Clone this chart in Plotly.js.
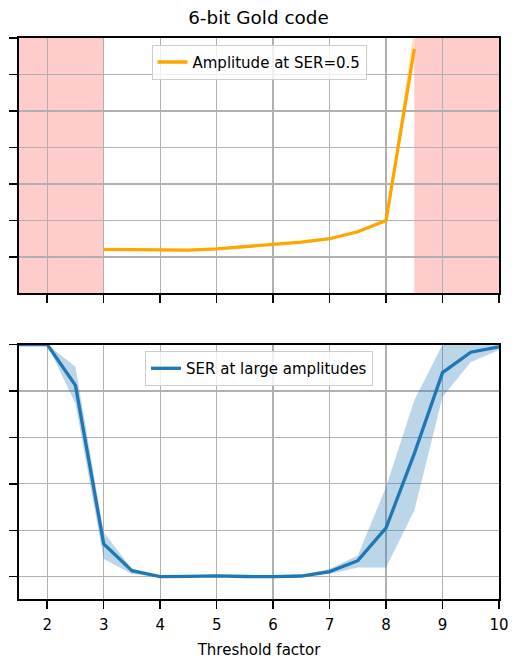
<!DOCTYPE html>
<html><head><meta charset="utf-8">
<script src="https://cdn.plot.ly/plotly-3.0.1.min.js"></script>
<style>body{margin:0;padding:0;}#chart{width:517px;height:662px;}</style>
</head><body><div id="chart"></div>
<script>
// Top panel: amplitude at SER=0.5 (arbitrary units, axis unlabeled)
const ampX = [3, 3.5, 4, 4.5, 5, 5.5, 6, 6.5, 7, 7.5, 8, 8.5];
const ampY = [1.21, 1.20, 1.20, 1.19, 1.22, 1.28, 1.34, 1.41, 1.50, 1.69, 2.00, 6.70];
const ampLo = [1.18, 1.17, 1.17, 1.16, 1.19, 1.25, 1.31, 1.38, 1.47, 1.65, 1.96, 6.55];
const ampHi = [1.24, 1.23, 1.23, 1.22, 1.25, 1.31, 1.37, 1.44, 1.53, 1.73, 2.04, 7.30];
// Invalid regions (red spans)
const spans = [[1.5, 3], [8.5, 10]];

// Bottom panel: SER at large amplitudes
const serX = [1.5, 2, 2.5, 3, 3.5, 4, 4.5, 5, 5.5, 6, 6.5, 7, 7.5, 8, 8.5, 9, 9.5, 10];
const serY = [1.0, 1.0, 0.824, 0.141, 0.026, 0.0, 0.0015, 0.004, 0.001, 0.0, 0.003, 0.022, 0.069, 0.21, 0.53, 0.879, 0.967, 0.99];
const serLo = [1.0, 1.0, 0.745, 0.076, 0.012, 0.0, 0.0, 0.001, 0.0, 0.0, 0.0, 0.012, 0.040, 0.040, 0.285, 0.774, 0.925, 0.976];
const serHi = [1.0, 1.0, 0.904, 0.191, 0.033, 0.003, 0.004, 0.008, 0.004, 0.003, 0.007, 0.033, 0.091, 0.386, 0.76, 1.0, 1.0, 1.0];

const xTicks = [2, 3, 4, 5, 6, 7, 8, 9, 10];
const topYTicks = [1, 2, 3, 4, 5, 6, 7];
const botYTicks = [0, 0.2, 0.4, 0.6, 0.8, 1.0];

const orange = '#ffa500', blue = '#1f77b4';

const traces = [
  {x: ampX, y: ampLo, xaxis: 'x', yaxis: 'y', mode: 'lines', line: {width: 0, color: orange}, showlegend: false, hoverinfo: 'skip'},
  {x: ampX, y: ampHi, xaxis: 'x', yaxis: 'y', mode: 'lines', line: {width: 0, color: orange}, fill: 'tonexty', fillcolor: 'rgba(255,165,0,0.3)', showlegend: false, hoverinfo: 'skip'},
  {x: ampX, y: ampY, xaxis: 'x', yaxis: 'y', mode: 'lines', name: 'Amplitude at SER=0.5', line: {width: 3.3, color: orange}, legend: 'legend'},
  {x: serX, y: serLo, xaxis: 'x2', yaxis: 'y2', mode: 'lines', line: {width: 0, color: blue}, showlegend: false, hoverinfo: 'skip'},
  {x: serX, y: serHi, xaxis: 'x2', yaxis: 'y2', mode: 'lines', line: {width: 0, color: blue}, fill: 'tonexty', fillcolor: 'rgba(31,119,180,0.3)', showlegend: false, hoverinfo: 'skip'},
  {x: serX, y: serY, xaxis: 'x2', yaxis: 'y2', mode: 'lines', name: 'SER at large amplitudes', line: {width: 3.3, color: blue}, legend: 'legend2'}
];

const shapes = spans.map(s => ({type: 'rect', xref: 'x', yref: 'y domain', x0: s[0], x1: s[1], y0: 0, y1: 1, fillcolor: 'rgba(255,0,0,0.2)', line: {width: 0}, layer: 'below'}));

const axBase = {showgrid: true, gridcolor: '#b0b0b0', gridwidth: 1.3, showline: true, linecolor: 'black', linewidth: 1.8, mirror: true, ticks: 'outside', ticklen: 8, tickwidth: 1.5, tickcolor: 'black', zeroline: false};
const font = {family: 'DejaVu Sans', size: 15, color: 'black'};

const layout = {
  width: 517, height: 662,
  margin: {l: 19, r: 18, t: 38, b: 63},
  paper_bgcolor: 'white', plot_bgcolor: 'white',
  font: font,
  title: {text: '6-bit Gold code', x: 0.5, xanchor: 'center', y: 0.974, yanchor: 'middle', font: {family: 'DejaVu Sans', size: 18.4, color: 'black'}},
  xaxis: Object.assign({}, axBase, {domain: [0, 1], range: [1.5, 10], tickvals: xTicks, showticklabels: false, anchor: 'y'}),
  yaxis: Object.assign({}, axBase, {domain: [0.5446, 1], range: [0, 7], tickvals: topYTicks, showticklabels: false, anchor: 'x'}),
  xaxis2: Object.assign({}, axBase, {domain: [0, 1], range: [1.5, 10], tickvals: xTicks, anchor: 'y2', ticklabelstandoff: 3, title: {text: 'Threshold factor', font: font, standoff: 12}}),
  yaxis2: Object.assign({}, axBase, {domain: [0, 0.4536], range: [-0.096, 1.0], tickvals: botYTicks, showticklabels: false, anchor: 'x2'}),
  shapes: shapes,
  legend: {x: 0.5, xanchor: 'center', y: 0.988, yanchor: 'top', bgcolor: 'rgba(255,255,255,0.8)', bordercolor: '#cccccc', borderwidth: 1, font: font, tracegroupgap: 0},
  legend2: {x: 0.5, xanchor: 'center', y: 0.442, yanchor: 'top', bgcolor: 'rgba(255,255,255,0.8)', bordercolor: '#cccccc', borderwidth: 1, font: font, tracegroupgap: 0},
  showlegend: true
};

Plotly.newPlot('chart', traces, layout, {displayModeBar: false, staticPlot: true});
</script></body></html>
